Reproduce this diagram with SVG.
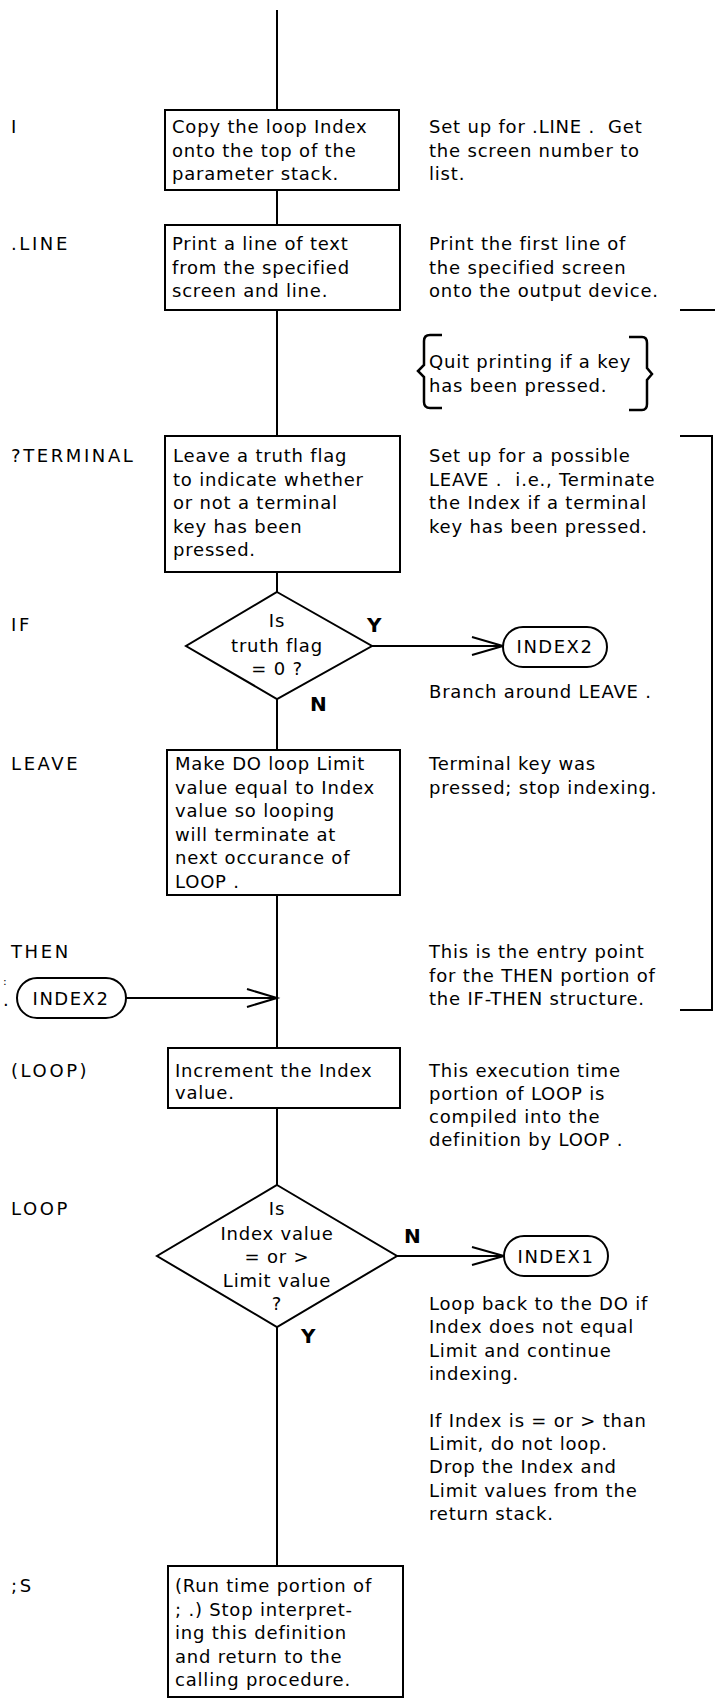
<svg xmlns="http://www.w3.org/2000/svg" width="715" height="1699" viewBox="0 0 715 1699">
<style>
  .t { font-family: "DejaVu Sans", sans-serif; font-size: 18px; letter-spacing: 0.8px; fill: #000; }
  .c { text-anchor: middle; }
  .lb { letter-spacing: 2.6px; }
  .p { letter-spacing: 1.5px; }
  .b { font-weight: bold; letter-spacing: 0px; font-size: 20px; }
  .s { fill: #fff; stroke: #000; stroke-width: 2; }
  .l { fill: none; stroke: #000; stroke-width: 2; }
  .br { fill: none; stroke: #000; stroke-width: 2.5; }
</style>
<rect width="715" height="1699" fill="#fff"/>

<g id="connectors">
  <line class="l" x1="277" y1="10" x2="277" y2="110"/>
  <line class="l" x1="277" y1="190" x2="277" y2="225"/>
  <line class="l" x1="277" y1="310" x2="277" y2="436"/>
  <line class="l" x1="277" y1="572" x2="277" y2="592"/>
  <line class="l" x1="277" y1="699" x2="277" y2="750"/>
  <line class="l" x1="277" y1="895" x2="277" y2="1048"/>
  <line class="l" x1="277" y1="1108" x2="277" y2="1185"/>
  <line class="l" x1="277" y1="1327" x2="277" y2="1566"/>
  <line class="l" x1="372" y1="646" x2="503" y2="646"/>
  <polyline class="l" points="472,637 503,646 472,655"/>
  <line class="l" x1="126" y1="998" x2="277" y2="998"/>
  <polyline class="l" points="247,989 277,998 247,1007"/>
  <line class="l" x1="397" y1="1256" x2="504" y2="1256"/>
  <polyline class="l" points="472,1247 504,1256 472,1265"/>
  <text class="t b" x="367" y="632">Y</text>
  <text class="t b" x="310" y="711">N</text>
  <text class="t b" x="404" y="1243">N</text>
  <text class="t b" x="301" y="1343">Y</text>
</g>

<g id="labels">
  <text class="t lb" x="11" y="133">I</text>
  <text class="t lb" x="11" y="250">.LINE</text>
  <text class="t lb" x="11" y="462">?TERMINAL</text>
  <text class="t lb" x="11" y="631">IF</text>
  <text class="t lb" x="11" y="770">LEAVE</text>
  <text class="t lb" x="11" y="958">THEN</text>
  <text class="t lb" x="11" y="1077">(LOOP)</text>
  <text class="t lb" x="11" y="1215">LOOP</text>
  <text class="t lb" x="11" y="1592">;S</text>
</g>

<g id="node-I">
  <rect class="s" x="165" y="110" width="234" height="80"/>
  <text class="t" x="172" y="133">Copy the loop Index</text>
  <text class="t" x="172" y="156.5">onto the top of the</text>
  <text class="t" x="172" y="180">parameter stack.</text>
</g>

<g id="node-LINE">
  <rect class="s" x="165" y="225" width="235" height="85"/>
  <text class="t" x="172" y="250">Print a line of text</text>
  <text class="t" x="172" y="273.5">from the specified</text>
  <text class="t" x="172" y="297">screen and line.</text>
</g>

<g id="node-TERMINAL">
  <rect class="s" x="165" y="436" width="235" height="136"/>
  <text class="t" x="173" y="462">Leave a truth flag</text>
  <text class="t" x="173" y="485.5">to indicate whether</text>
  <text class="t" x="173" y="509">or not a terminal</text>
  <text class="t" x="173" y="532.5">key has been</text>
  <text class="t" x="173" y="556">pressed.</text>
</g>

<g id="node-IF">
  <polygon class="s" points="277,592 372,646 277,699 186,646"/>
  <text class="t c" x="277" y="627">Is</text>
  <text class="t c" x="277" y="652">truth flag</text>
  <text class="t c" x="277" y="675">= 0 ?</text>
</g>

<g id="node-INDEX2-out">
  <rect class="s" x="503" y="627" width="104" height="40" rx="20"/>
  <text class="t c p" x="555" y="653">INDEX2</text>
</g>

<g id="node-LEAVE">
  <rect class="s" x="167" y="750" width="233" height="145"/>
  <text class="t" x="175" y="770">Make DO loop Limit</text>
  <text class="t" x="175" y="793.5">value equal to Index</text>
  <text class="t" x="175" y="817">value so looping</text>
  <text class="t" x="175" y="840.5">will terminate at</text>
  <text class="t" x="175" y="864">next occurance of</text>
  <text class="t" x="175" y="887.5">LOOP .</text>
</g>

<g id="node-INDEX2-in">
  <text class="t" x="3" y="985" style="font-size:11px;letter-spacing:0">:</text>
  <text class="t" x="3" y="1006" style="letter-spacing:0">.</text>
  <rect class="s" x="17" y="978" width="109" height="40" rx="20"/>
  <text class="t c p" x="71" y="1005">INDEX2</text>
</g>

<g id="node-LOOP-run">
  <rect class="s" x="168" y="1048" width="232" height="60"/>
  <text class="t" x="175" y="1077">Increment the Index</text>
  <text class="t" x="175" y="1099">value.</text>
</g>

<g id="node-LOOP">
  <polygon class="s" points="277,1185 397,1256 277,1327 157,1256"/>
  <text class="t c" x="277" y="1215">Is</text>
  <text class="t c" x="277" y="1240">Index value</text>
  <text class="t c" x="277" y="1263">= or &gt;</text>
  <text class="t c" x="277" y="1287">Limit value</text>
  <text class="t c" x="277" y="1310">?</text>
</g>

<g id="node-INDEX1">
  <rect class="s" x="504" y="1236" width="104" height="40" rx="20"/>
  <text class="t c p" x="556" y="1263">INDEX1</text>
</g>

<g id="node-S">
  <rect class="s" x="168" y="1566" width="235" height="131"/>
  <text class="t" x="175" y="1592">(Run time portion of</text>
  <text class="t" x="175" y="1615.5">; .) Stop interpret-</text>
  <text class="t" x="175" y="1639">ing this definition</text>
  <text class="t" x="175" y="1662.5">and return to the</text>
  <text class="t" x="175" y="1686">calling procedure.</text>
</g>

<g id="comments">
  <text class="t" x="429" y="133">Set up for .LINE .&#160; Get</text>
  <text class="t" x="429" y="156.5">the screen number to</text>
  <text class="t" x="429" y="180">list.</text>

  <text class="t" x="429" y="250">Print the first line of</text>
  <text class="t" x="429" y="273.5">the specified screen</text>
  <text class="t" x="429" y="297">onto the output device.</text>

  <path class="br" d="M442,335 H430 Q424,335 424,341 V365 L418,371 L424,377 V402 Q424,408 430,408 H442"/>
  <text class="t" x="429" y="368">Quit printing if a key</text>
  <text class="t" x="429" y="392">has been pressed.</text>
  <path class="br" d="M629,337 H642 Q647,337 647,343 V368 L652,374 L647,380 V404 Q647,410 642,410 H629"/>

  <text class="t" x="429" y="462">Set up for a possible</text>
  <text class="t" x="429" y="485.5">LEAVE .&#160; i.e., Terminate</text>
  <text class="t" x="429" y="509">the Index if a terminal</text>
  <text class="t" x="429" y="532.5">key has been pressed.</text>

  <text class="t" x="429" y="698">Branch around LEAVE .</text>

  <text class="t" x="429" y="770">Terminal key was</text>
  <text class="t" x="429" y="793.5">pressed; stop indexing.</text>

  <text class="t" x="429" y="958">This is the entry point</text>
  <text class="t" x="429" y="981.5">for the THEN portion of</text>
  <text class="t" x="429" y="1005">the IF-THEN structure.</text>

  <text class="t" x="429" y="1077">This execution time</text>
  <text class="t" x="429" y="1100">portion of LOOP is</text>
  <text class="t" x="429" y="1123">compiled into the</text>
  <text class="t" x="429" y="1146">definition by LOOP .</text>

  <text class="t" x="429" y="1310">Loop back to the DO if</text>
  <text class="t" x="429" y="1333">Index does not equal</text>
  <text class="t" x="429" y="1357">Limit and continue</text>
  <text class="t" x="429" y="1380">indexing.</text>

  <text class="t" x="429" y="1427">If Index is = or &gt; than</text>
  <text class="t" x="429" y="1450">Limit, do not loop.</text>
  <text class="t" x="429" y="1473">Drop the Index and</text>
  <text class="t" x="429" y="1497">Limit values from the</text>
  <text class="t" x="429" y="1520">return stack.</text>

  <line class="l" x1="680" y1="310" x2="715" y2="310"/>
  <path class="l" d="M680,436 H712 V1010 H680"/>
</g>
</svg>
